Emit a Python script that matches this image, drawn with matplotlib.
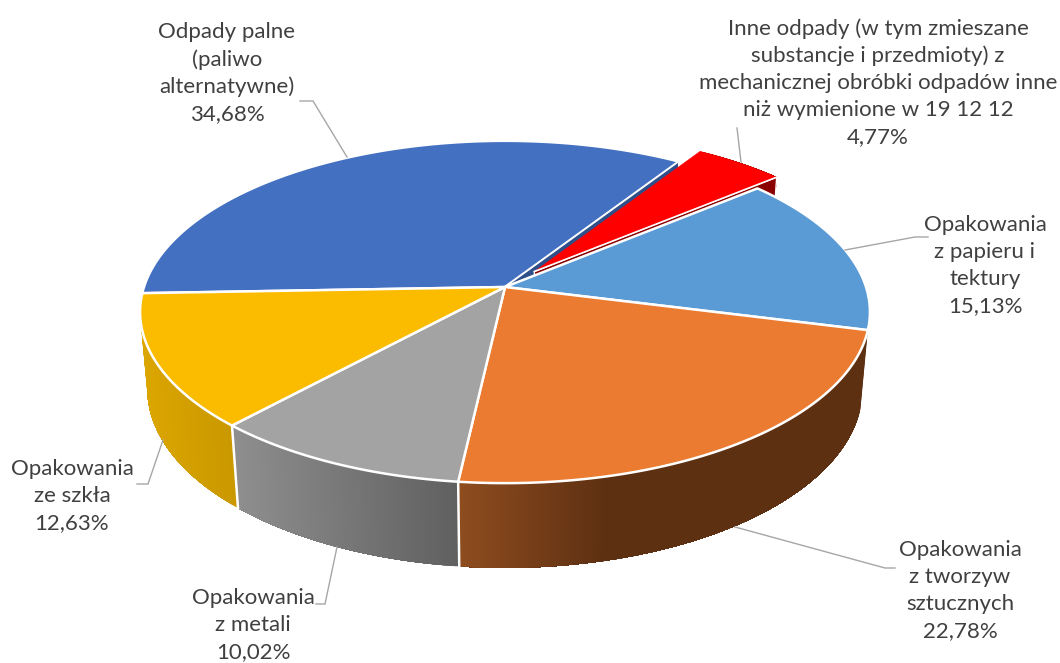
import numpy as np
import matplotlib
matplotlib.use("Agg")
import matplotlib.pyplot as plt
from matplotlib.patches import Polygon
from matplotlib.colors import to_rgb

# ---- data ----
categories = ["Odpady palne\n(paliwo\nalternatywne)",
              "Inne odpady (w tym zmieszane\nsubstancje i przedmioty) z\nmechanicznej obróbki odpadów inne\nniż wymienione w 19 12 12",
              "Opakowania\nz papieru i\ntektury",
              "Opakowania\nz tworzyw\nsztucznych",
              "Opakowania\nz metali",
              "Opakowania\nze szkła"]
values = [34.68, 4.77, 15.13, 22.78, 10.02, 12.63]
top_colors = ["#4370C1", "#FF0000", "#5B9BD5", "#EA7B30", "#A3A3A3", "#FBBC00"]
side_left = ["#2E4F8A", "#8B0000", "#33618C", "#8F4D1F", "#8F8F8F", "#DCA600"]
side_right = ["#2E4F8A", "#8B0000", "#33618C", "#5E3012", "#606060", "#C99800"]
explode = [0, 0.125, 0, 0, 0, 0]
radius = [1, 0.98, 1, 1, 1, 1]

# ---- layout ----
CX, CY, RX, SY, K, DEPTH, M = 505, 287, 361, 167.5, 0.146, 78, 0.02
START = 267.9
label_xy = [(227, 73), (878, 82.5), (985, 265.5), (960, 590.5), (253, 625), (72, 496)]
leaders = [[(347, 157), (313, 101), (300, 101)],
           [(741, 162), (737, 128)],
           [(845, 250), (915, 237), (928, 237)],
           [(735, 527), (885, 568), (895, 568)],
           [(337, 547), (325, 604), (316, 604)],
           [(163, 440), (148, 484), (137, 484)]]

fig = plt.figure(figsize=(10.6, 6.63), dpi=100)
ax = fig.add_axes([0, 0, 1, 1])
ax.set_xlim(0, 1060)
ax.set_ylim(663, 0)
ax.axis("off")


def proj(u, v, z=0.0):
    w = 1 + K * v + M * z
    return CX + RX * u / w, CY - (SY * v - DEPTH * z) / w


total = sum(values)
bounds = START + np.concatenate([[0], np.cumsum(values)]) / total * 360
spans = list(zip(bounds[:-1], bounds[1:]))


def rim(i, a, z=0.0):
    """Point on the outer rim of slice i at angle a (degrees, clockwise from top)."""
    o = offset(i)
    r = radius[i]
    return proj(r * np.sin(np.radians(a)) + o[0], r * np.cos(np.radians(a)) + o[1], z)


def offset(i):
    mid = np.radians((spans[i][0] + spans[i][1]) / 2)
    return explode[i] * np.sin(mid), explode[i] * np.cos(mid)


def top(i, z):
    o = offset(i)
    angles = np.linspace(spans[i][0], spans[i][1], 200)
    pts = [proj(*o)] + [rim(i, a) for a in angles]
    edge = i != 1
    ax.add_patch(Polygon(pts, closed=True, facecolor=top_colors[i],
                         edgecolor="white" if edge else top_colors[i],
                         linewidth=1.8 if edge else 0.3, zorder=z, joinstyle="round"))


def radial_face(i, z):
    o = offset(i)
    a = spans[i][1]
    pts = [proj(*o), rim(i, a), rim(i, a, 1), proj(*o, 1)]
    ax.add_patch(Polygon(pts, closed=True, facecolor=side_right[i],
                         edgecolor="white", linewidth=1.0, zorder=z))


def side(i, z):
    a0, a1 = spans[i]
    edges = np.append(np.arange(a0, a1, 0.5), a1)
    c0, c1 = np.array(to_rgb(side_left[i])), np.array(to_rgb(side_right[i]))
    xs = [rim(i, e)[0] for e in edges]
    lo, hi = min(xs), max(xs)
    # each strip reaches to the end of the slice and is overpainted by the next,
    # so no seams appear between strips
    for e0 in edges[:-1]:
        fine = np.linspace(e0, a1, max(2, int((a1 - e0) * 2)))
        up = [rim(i, e) for e in fine]
        dn = [rim(i, e, 1) for e in fine[::-1]]
        x = up[0][0]
        if i == 3:      # brown darkens quickly, then stays flat
            f = min(1, max(0, (x - 458) / 150))
        elif i == 5:
            f = min(1, max(0, (x - 142) / 94))
        else:
            f = (x - lo) / max(hi - lo, 1)
        col = c0 + (c1 - c0) * f
        ax.add_patch(Polygon(up + dn, closed=True, facecolor=col, edgecolor="none",
                             zorder=z))


# back slices, exploded slice, then the front of the pie
top(0, 2)
radial_face(0, 3)
side(1, 4)
radial_face(1, 4.5)
top(1, 5)
o1 = offset(1)
p0, p1 = proj(*o1), rim(1, spans[1][1])
ax.plot([p0[0], p1[0]], [p0[1], p1[1]], color="white", lw=1.2, zorder=5.2)
# wall of the front slices
side(5, 6.0)
side(4, 6.1)
side(3, 6.2)
for a in (spans[3][1], spans[4][1]):
    s, c = np.sin(np.radians(a)), np.cos(np.radians(a))
    q0, q1 = proj(s, c), proj(s, c, 1)
    ax.plot([q0[0], q1[0]], [q0[1], q1[1]], color="white", lw=1.8, zorder=6.5)
for i in (2, 3, 4, 5):
    top(i, 7)

# leader lines and labels
for pts in leaders:
    ax.plot(*zip(*pts), color="#A6A6A6", lw=1.0, zorder=8, solid_joinstyle="miter")
for name, val, (x, y) in zip(categories, values, label_xy):
    txt = name + "\n" + f"{val:.2f}".replace(".", ",") + "%"
    ax.text(x, y, txt, ha="center", va="center", multialignment="center",
            family="Lato", fontsize=16, color="#404040", linespacing=1.43, zorder=9)

fig.savefig("out.png", dpi=100, facecolor="white")
